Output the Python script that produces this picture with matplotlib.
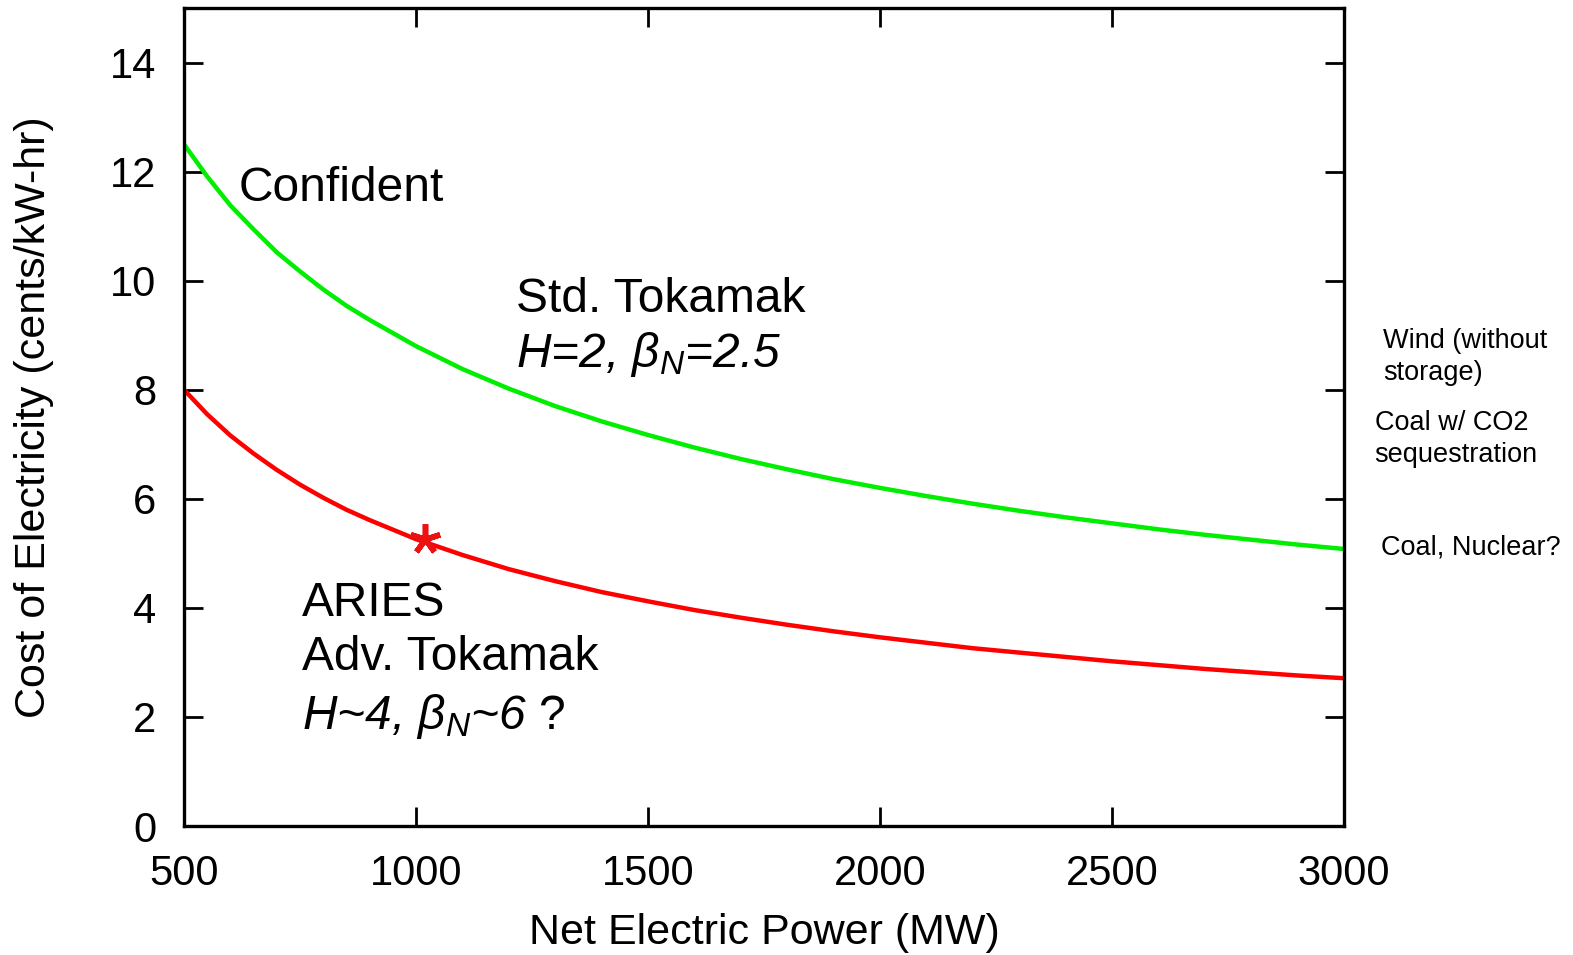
import matplotlib
matplotlib.use("Agg")
import matplotlib.pyplot as plt

power_mw = [500, 550, 600, 650, 700, 750, 800, 850, 900, 1000, 1100, 1200, 1300, 1400, 1500,
            1600, 1700, 1800, 1900, 2000, 2100, 2200, 2300, 2400, 2500, 2600, 2700, 2800,
            2900, 3000]
coe_std = [12.5, 11.91, 11.38, 10.94, 10.52, 10.17, 9.84, 9.54, 9.28, 8.8, 8.38, 8.02, 7.7,
           7.42, 7.17, 6.94, 6.73, 6.54, 6.36, 6.2, 6.05, 5.91, 5.78, 5.66, 5.55, 5.44, 5.34,
           5.25, 5.16, 5.08]
coe_adv = [8.0, 7.55, 7.16, 6.83, 6.53, 6.26, 6.02, 5.8, 5.61, 5.26, 4.97, 4.71, 4.49, 4.29,
           4.12, 3.96, 3.82, 3.69, 3.57, 3.46, 3.36, 3.26, 3.18, 3.10, 3.02, 2.95, 2.88, 2.82,
           2.76, 2.71]
aries_point = (1020, 5.27)

x_ticks = [500, 1000, 1500, 2000, 2500, 3000]
y_ticks = [0, 2, 4, 6, 8, 10, 12, 14]

right_notes = [("Wind (without", 3085, 8.76), ("storage)", 3085, 8.17),
               ("Coal w/ CO2", 3066, 7.27), ("sequestration", 3066, 6.68),
               ("Coal, Nuclear?", 3080, 4.97)]

plt.rcParams['font.family'] = ['Liberation Sans', 'DejaVu Sans']
plt.rcParams['mathtext.fontset'] = 'custom'
plt.rcParams['mathtext.rm'] = 'Liberation Sans'
plt.rcParams['mathtext.it'] = 'Liberation Sans:italic'

fig = plt.figure(figsize=(15.73, 9.55), dpi=100)
ax = fig.add_axes([184/1573, 1 - 826/955, (1344 - 184)/1573, (826 - 8)/955])

ax.plot(power_mw, coe_std, color='#00ee00', lw=3.2)
ax.plot(power_mw, coe_adv, color='#ff0000', lw=3.2)
ax.plot([aries_point[0]], [aries_point[1]], marker=(5, 2, 0), color='#ee1111',
        markersize=22, mew=4, ls='none')

ax.set_xlim(500, 3000)
ax.set_ylim(0, 15)
ax.set_xticks(x_ticks)
ax.set_yticks(y_ticks)
ax.tick_params(direction='in', length=14, width=2, top=True, right=True,
               labelsize=30, pad=20)
for s in ax.spines.values():
    s.set_linewidth(2.4)

ax.set_xlabel("Net Electric Power (MW)", fontsize=31, labelpad=14)
ax.set_ylabel("Cost of Electricity (cents/kW-hr)", fontsize=31, labelpad=40)

fs = 34.5
ax.text(617, 11.46, "Confident", fontsize=fs, va='baseline')
ax.text(1215, 9.42, "Std. Tokamak", fontsize=fs, va='baseline')
ax.text(1215, 8.42, r"H=2, $\mathit{\beta_N}$=2.5", fontsize=fs, va='baseline',
        style='italic')
ax.text(755, 3.86, "ARIES", fontsize=fs, va='baseline')
ax.text(755, 2.86, "Adv. Tokamak", fontsize=fs, va='baseline')
ax.text(755, 1.78, r"H~4, $\mathit{\beta_N}$~6 $\mathrm{?}$", fontsize=fs, va='baseline',
        style='italic')

for txt, xx, yy in right_notes:
    ax.text(xx, yy, txt, fontsize=19.5, va='baseline', clip_on=False)

fig.savefig("out.png", dpi=100)
